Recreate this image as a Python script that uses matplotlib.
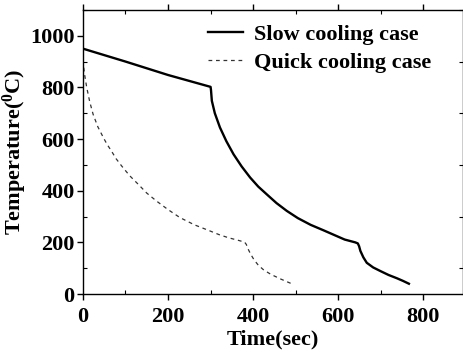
import matplotlib
matplotlib.use("Agg")
import matplotlib.pyplot as plt
from matplotlib.ticker import MultipleLocator

slow_t = [0, 100, 200, 300, 301, 303, 310, 322, 337, 354, 373, 393, 412, 432, 455, 479, 505, 535, 565, 590, 615, 640, 646,
          649, 652, 659, 667, 682, 699, 718, 738, 752, 766]
slow_T = [950, 900, 848, 802, 790, 748, 700, 645, 592, 541, 494, 451, 416, 386, 352, 322, 294, 268, 247, 229, 211, 200, 196,
          185, 167, 142, 121, 103, 89, 74, 61, 51, 40]

quick_t = [0, 1, 4, 9, 16, 24, 35, 48, 57, 67, 78, 91, 110, 130, 150, 173, 200, 228, 262, 299, 320, 342, 365, 380,
           384, 388, 394, 402, 412, 425, 442, 465, 489]
quick_T = [905, 890, 850, 800, 745, 696, 648, 606, 579, 554, 524, 496, 458, 425, 391, 360, 327, 296, 268, 244, 230, 218, 208, 201,
           192, 175, 155, 133, 112, 93, 76, 58, 41]

font = "Liberation Serif"
plt.rcParams["font.family"] = font
plt.rcParams["font.weight"] = "bold"
plt.rcParams["mathtext.fontset"] = "custom"
plt.rcParams["mathtext.bf"] = "Liberation Serif:bold"
plt.rcParams["mathtext.rm"] = "Liberation Serif:bold"

fig = plt.figure(figsize=(4.63, 3.53), dpi=100)
ax = fig.add_axes([0.179, 0.167, 0.82, 0.805])

ax.plot(slow_t, slow_T, color="black", lw=1.7, label="Slow cooling case")
ax.plot(quick_t, quick_T, color="#333333", lw=0.9, linestyle=(0, (3, 3)), label="Quick cooling case")

ax.set_xlim(0, 892)
ax.set_ylim(0, 1100)
ax.xaxis.set_major_locator(MultipleLocator(200))
ax.xaxis.set_minor_locator(MultipleLocator(100))
ax.yaxis.set_major_locator(MultipleLocator(200))
ax.yaxis.set_minor_locator(MultipleLocator(100))
ax.tick_params(which="major", direction="out", length=4, width=1, labelsize=16, pad=2)
ax.tick_params(axis="x", which="major", pad=5)
ax.tick_params(which="minor", direction="in", length=3, width=0.8, top=True, right=True)
ax.tick_params(which="major", top=True, right=True)
for lab in ax.get_xticklabels() + ax.get_yticklabels():
    lab.set_fontweight("bold")

ax.set_xlabel("Time(sec)", fontsize=16, fontweight="bold", labelpad=2)
ax.set_ylabel("Temperature($\\mathbf{^0}$C)", fontsize=16, fontweight="bold")
ax.yaxis.set_label_coords(-0.142, 0.5)

leg = ax.legend(loc="upper right", frameon=False, fontsize=16, handlelength=1.55,
                borderaxespad=0.25, labelspacing=0.35, handletextpad=0.5,
                bbox_to_anchor=(0.955, 1.0))
for t in leg.get_texts():
    t.set_fontweight("bold")

for s in ax.spines.values():
    s.set_linewidth(1.0)

fig.savefig("out.png", dpi=100)
